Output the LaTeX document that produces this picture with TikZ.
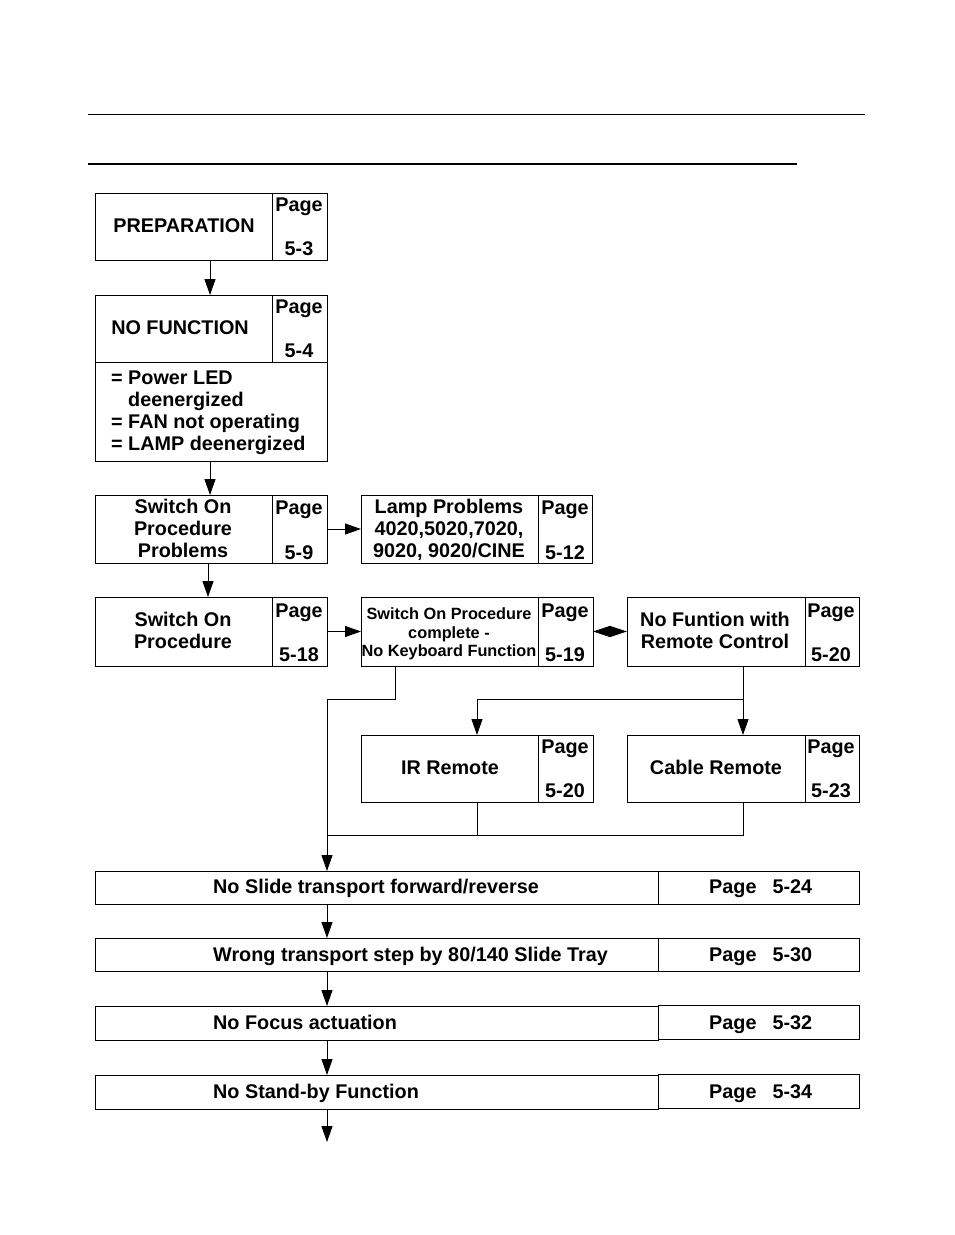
\documentclass[tikz,border=0pt]{standalone}
\usepackage{fontspec}
\setmainfont{Liberation Sans}
\usetikzlibrary{fit,arrows.meta}
\begin{document}
\begin{tikzpicture}[x=1pt,y=-1pt,
 box/.style={draw, line width=1pt, inner sep=0pt, outer sep=0pt},
 tx/.style={font=\bfseries\fontsize{19.8}{22}\selectfont, inner sep=0pt, anchor=base},
 txl/.style={tx, anchor=base west},
 sm/.style={font=\bfseries\fontsize{16.3}{18.5}\selectfont, inner sep=0pt, anchor=base},
 arr/.style={line width=1pt, -{Triangle[length=16pt,width=11pt]}},
 dbl/.style={line width=1pt, {Triangle[length=17pt,width=11pt]}-{Triangle[length=17pt,width=11pt]}},
 ln/.style={line width=1pt}]
\useasboundingbox (0,0) rectangle (954,1235);
% header rules
\draw[line width=1pt] (88,114) -- (865,114);
\draw[line width=2.4pt] (88,164) -- (797,164);
% boxes
\node[box, fit={(95,193)(272,260)}] (prep) {};
\node[box, fit={(272,193)(327,260)}] (prepP) {};
\node[box, fit={(95,295)(272,362)}] (nofn) {};
\node[box, fit={(272,295)(327,362)}] (nofnP) {};
\node[box, fit={(95,362)(327,461)}] (nofnS) {};
\node[box, fit={(95,495)(272,563)}] (sopp) {};
\node[box, fit={(272,495)(327,563)}] (soppP) {};
\node[box, fit={(361,495)(538,563)}] (lamp) {};
\node[box, fit={(538,495)(592,563)}] (lampP) {};
\node[box, fit={(95,597)(272,666)}] (sop) {};
\node[box, fit={(272,597)(327,666)}] (sopP) {};
\node[box, fit={(361,597)(538,666)}] (sopc) {};
\node[box, fit={(538,597)(593,666)}] (sopcP) {};
\node[box, fit={(627,597)(805,666)}] (nfrc) {};
\node[box, fit={(805,597)(859,666)}] (nfrcP) {};
\node[box, fit={(361,735)(538,802)}] (ir) {};
\node[box, fit={(538,735)(593,802)}] (irP) {};
\node[box, fit={(627,735)(805,802)}] (cab) {};
\node[box, fit={(805,735)(859,802)}] (cabP) {};
\node[box, fit={(95,871)(658,904)}] (sl) {};
\node[box, fit={(658,871)(859,904)}] (slP) {};
\node[box, fit={(95,938)(658,971)}] (wt) {};
\node[box, fit={(658,938)(859,971)}] (wtP) {};
\node[box, fit={(95,1006)(658,1040)}] (nf) {};
\node[box, fit={(658,1005)(859,1039)}] (nfP) {};
\node[box, fit={(95,1075)(658,1109)}] (ns) {};
\node[box, fit={(658,1074)(859,1108)}] (nsP) {};
% texts
\node[tx] (t1) at (184,232) {PREPARATION};
\node[tx] (t2) at (299,211) {Page};
\node[tx] (t3) at (299,255) {5-3};
\node[tx] (t4) at (180,334) {NO FUNCTION};
\node[tx] (t5) at (299,313) {Page};
\node[tx] (t6) at (299,357) {5-4};
\node[txl] (t7) at (111,384) {= Power LED};
\node[txl] (t8) at (128,406) {deenergized};
\node[txl] (t9) at (111,428) {= FAN not operating};
\node[txl] (t10) at (111,450) {= LAMP deenergized};
\node[tx] (t11) at (183,513) {Switch On};
\node[tx] (t12) at (183,535) {Procedure};
\node[tx] (t13) at (183,557) {Problems};
\node[tx] (t14) at (299,514) {Page};
\node[tx] (t15) at (299,559) {5-9};
\node[tx] (t16) at (449,513) {Lamp Problems};
\node[tx] (t17) at (449,535) {4020,5020,7020,};
\node[tx] (t18) at (449,557) {9020, 9020/CINE};
\node[tx] (t19) at (565,514) {Page};
\node[tx] (t20) at (565,559) {5-12};
\node[tx] (t21) at (183,626) {Switch On};
\node[tx] (t22) at (183,648) {Procedure};
\node[tx] (t23) at (299,617) {Page};
\node[tx] (t24) at (299,661) {5-18};
\node[sm] (t25) at (449,619) {Switch On Procedure};
\node[sm] (t26) at (449,638) {complete -};
\node[sm] (t27) at (449,656) {No Keyboard Function};
\node[tx] (t28) at (565,617) {Page};
\node[tx] (t29) at (565,661) {5-19};
\node[tx] (t30) at (715,626) {No Funtion with};
\node[tx] (t31) at (715,648) {Remote Control};
\node[tx] (t32) at (831,617) {Page};
\node[tx] (t33) at (831,661) {5-20};
\node[tx] (t34) at (450,774) {IR Remote};
\node[tx] (t35) at (565,753) {Page};
\node[tx] (t36) at (565,797) {5-20};
\node[tx] (t37) at (716,774) {Cable Remote};
\node[tx] (t38) at (831,753) {Page};
\node[tx] (t39) at (831,797) {5-23};
\node[txl] (t40) at (213,893) {No Slide transport forward/reverse};
\node[txl] (t41) at (709,893) {Page\hspace{16pt}5-24};
\node[txl] (t42) at (213,961) {Wrong transport step by 80/140 Slide Tray};
\node[txl] (t43) at (709,961) {Page\hspace{16pt}5-30};
\node[txl] (t44) at (213,1029) {No Focus actuation};
\node[txl] (t45) at (709,1029) {Page\hspace{16pt}5-32};
\node[txl] (t46) at (213,1098) {No Stand-by Function};
\node[txl] (t47) at (709,1098) {Page\hspace{16pt}5-34};
% helper coordinates
\coordinate (c210) at (210,0);
\coordinate (c208) at (208,0);
\coordinate (k1) at (395,699);
\coordinate (k2) at (327,699);
\coordinate (k3) at (743,699);
\coordinate (k4) at (477,699);
\coordinate (k5) at (477,835);
\coordinate (k6) at (743,835);
\coordinate (k7) at (327,835);
\coordinate (kend) at (327,1142);
% connectors
\draw[arr] (prep.south -| c210) -- (nofn.north -| c210);
\draw[arr] (nofnS.south -| c210) -- (sopp.north -| c210);
\draw[arr] (soppP.east) -- (lamp.west);
\draw[arr] (sopp.south -| c208) -- (sop.north -| c208);
\draw[arr] (sopP.east) -- (sopc.west);
\draw[dbl] (sopcP.east) -- (nfrc.west);
\draw[arr] (sopc.south -| k1) -- (k1) -- (k2) -- (sl.north -| k2);
\draw[arr] (nfrc.south -| k3) -- (cab.north -| k3);
\draw[arr] (k3) -- (k4) -- (ir.north -| k4);
\draw[ln] (ir.south -| k5) -- (k5);
\draw[ln] (cab.south -| k6) -- (k6) -- (k7);
\draw[arr] (sl.south -| k2) -- (wt.north -| k2);
\draw[arr] (wt.south -| k2) -- (nf.north -| k2);
\draw[arr] (nf.south -| k2) -- (ns.north -| k2);
\draw[arr] (ns.south -| k2) -- (kend);
\end{tikzpicture}
\end{document}
